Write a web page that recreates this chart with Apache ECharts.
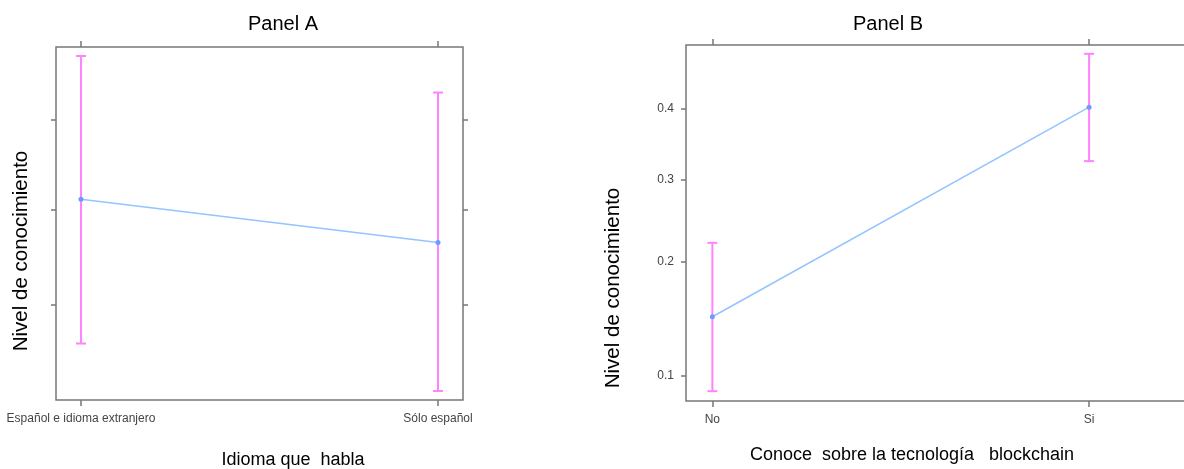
<!DOCTYPE html>
<html>
<head>
<meta charset="utf-8">
<script src="https://cdn.jsdelivr.net/npm/echarts@6/dist/echarts.min.js"></script>
<style>
  html, body { margin: 0; padding: 0; background: #fff; }
  #chart { width: 1184px; height: 469px; }
</style>
</head>
<body>
<div id="chart"></div>
<script>
// Panel A: Idioma que habla
var catsA = ['Español e idioma extranjero', 'Sólo español'];
var fitA = [0.411, 0.364];
var lowerA = [0.263, 0.221];
var upperA = [0.572, 0.531];
var yTicksA = [0.3, 0.4, 0.5];
var yRangeA = [0.2135, 0.582];

// Panel B: Conoce sobre la tecnología blockchain
var catsB = ['No', 'Si'];
var fitB = [0.146, 0.403];
var lowerB = [0.090, 0.325];
var upperB = [0.221, 0.484];
var yTicksB = [0.1, 0.2, 0.3, 0.4];
var yRangeB = [0.084, 0.4976];

// the y axis is on a probit scale, so values are mapped through the inverse normal cdf
function probit(p) {
  var a = [-3.969683028665376e+01, 2.209460984245205e+02, -2.759285104469687e+02, 1.383577518672690e+02, -3.066479806614716e+01, 2.506628277459239e+00];
  var b = [-5.447609879822406e+01, 1.615858368580409e+02, -1.556989798598866e+02, 6.680131188771972e+01, -1.328068155288572e+01];
  var c = [-7.784894002430293e-03, -3.223964580411365e-01, -2.400758277161838e+00, -2.549671667975992e+00, 4.374664141464968e+00, 2.938163982698783e+00];
  var d = [7.784695709041462e-03, 3.224671290700398e-01, 2.445134137142996e+00, 3.754408661907416e+00];
  var plow = 0.02425, q, r;
  if (p < plow) {
    q = Math.sqrt(-2 * Math.log(p));
    return (((((c[0]*q+c[1])*q+c[2])*q+c[3])*q+c[4])*q+c[5]) / ((((d[0]*q+d[1])*q+d[2])*q+d[3])*q+1);
  }
  if (p > 1 - plow) {
    q = Math.sqrt(-2 * Math.log(1 - p));
    return -(((((c[0]*q+c[1])*q+c[2])*q+c[3])*q+c[4])*q+c[5]) / ((((d[0]*q+d[1])*q+d[2])*q+d[3])*q+1);
  }
  q = p - 0.5;
  r = q * q;
  return (((((a[0]*r+a[1])*r+a[2])*r+a[3])*r+a[4])*r+a[5])*q / (((((b[0]*r+b[1])*r+b[2])*r+b[3])*r+b[4])*r+1);
}

var tickFont = 'Liberation Sans Narrow, Liberation Sans, Arial, sans-serif';
var mainFont = 'Liberation Sans, Arial, sans-serif';
var gray = '#777';

function lineData(fit) {
  return fit.map(function (v, i) { return [i, probit(v)]; });
}
function barData(lo, hi) {
  return lo.map(function (v, i) { return [i, probit(v), probit(hi[i])]; });
}

function renderErrorBar(params, api) {
  var x = api.value(0);
  var lo = api.coord([x, api.value(1)]);
  var hi = api.coord([x, api.value(2)]);
  var w = 5;
  var style = { stroke: '#ff82ff', lineWidth: 2 };
  return {
    type: 'group',
    children: [
      { type: 'line', shape: { x1: lo[0], y1: lo[1], x2: hi[0], y2: hi[1] }, style: style },
      { type: 'line', shape: { x1: hi[0] - w, y1: hi[1], x2: hi[0] + w, y2: hi[1] }, style: style },
      { type: 'line', shape: { x1: lo[0] - w, y1: lo[1], x2: lo[0] + w, y2: lo[1] }, style: style }
    ]
  };
}

function xAxisFor(gridIndex, cats, max, pos, showLabel) {
  return {
    type: 'value',
    gridIndex: gridIndex,
    position: pos,
    min: -0.07,
    max: max,
    axisLine: { show: false, onZero: false },
    splitLine: { show: false },
    axisTick: { show: true, customValues: [0, 1], length: 6, lineStyle: { color: gray, width: 1.5 } },
    axisLabel: {
      show: showLabel,
      customValues: [0, 1],
      margin: 13,
      color: '#444',
      fontFamily: tickFont,
      fontSize: 12,
      formatter: function (v) { return cats[Math.round(v)]; }
    }
  };
}

function yAxisFor(gridIndex, ticks, range, pos, showLabel) {
  var tv = ticks.map(probit);
  return {
    type: 'value',
    gridIndex: gridIndex,
    position: pos,
    min: probit(range[0]),
    max: probit(range[1]),
    axisLine: { show: false, onZero: false },
    splitLine: { show: false },
    axisTick: { show: true, customValues: tv, length: 5, lineStyle: { color: gray, width: 1.5 } },
    axisLabel: {
      show: showLabel,
      customValues: tv,
      margin: 12,
      color: '#444',
      fontFamily: tickFont,
      fontSize: 12,
      formatter: function (v) {
        var best = 0;
        for (var i = 0; i < tv.length; i++) {
          if (Math.abs(tv[i] - v) < Math.abs(tv[best] - v)) best = i;
        }
        return ticks[best].toFixed(1);
      }
    }
  };
}

var myChart = echarts.init(document.getElementById('chart'));
var option = {
  animation: false,
  backgroundColor: '#fff',
  grid: [
    { left: 56, top: 47, width: 407, height: 353, outerBoundsMode: 'none', show: true, borderColor: gray, borderWidth: 1.5, backgroundColor: 'transparent' },
    // panel B is cut off at the right edge of the picture
    { left: 686, top: 45, width: 528, height: 356, outerBoundsMode: 'none', show: true, borderColor: gray, borderWidth: 1.5, backgroundColor: 'transparent' }
  ],
  xAxis: [
    xAxisFor(0, catsA, 1.07, 'bottom', true),
    xAxisFor(0, catsA, 1.07, 'top', false),
    xAxisFor(1, catsB, 1.3316, 'bottom', true),
    xAxisFor(1, catsB, 1.3316, 'top', false)
  ],
  yAxis: [
    yAxisFor(0, yTicksA, yRangeA, 'left', false),
    yAxisFor(0, yTicksA, yRangeA, 'right', false),
    yAxisFor(1, yTicksB, yRangeB, 'left', true)
  ],
  graphic: [
    { type: 'text', x: 283, y: 24, style: { text: 'Panel A', fontSize: 20, fontFamily: mainFont, fill: '#000', align: 'center', verticalAlign: 'middle' } },
    { type: 'text', x: 888, y: 24, style: { text: 'Panel B', fontSize: 20, fontFamily: mainFont, fill: '#000', align: 'center', verticalAlign: 'middle' } },
    { type: 'text', x: 21, y: 251, rotation: Math.PI / 2, style: { text: 'Nivel de conocimiento', fontSize: 20.5, fontFamily: mainFont, fill: '#000', align: 'center', verticalAlign: 'middle' } },
    { type: 'text', x: 613, y: 288, rotation: Math.PI / 2, style: { text: 'Nivel de conocimiento', fontSize: 20.5, fontFamily: mainFont, fill: '#000', align: 'center', verticalAlign: 'middle' } },
    { type: 'text', x: 293, y: 460, style: { text: 'Idioma que  habla', fontSize: 18, fontFamily: mainFont, fill: '#000', align: 'center', verticalAlign: 'middle' } },
    { type: 'text', x: 912, y: 455, style: { text: 'Conoce  sobre la tecnología   blockchain', fontSize: 18, fontFamily: mainFont, fill: '#000', align: 'center', verticalAlign: 'middle' } }
  ],
  series: [
    {
      type: 'custom',
      xAxisIndex: 0,
      yAxisIndex: 0,
      renderItem: renderErrorBar,
      encode: { x: 0, y: [1, 2] },
      data: barData(lowerA, upperA),
      z: 2
    },
    {
      type: 'line',
      xAxisIndex: 0,
      yAxisIndex: 0,
      data: lineData(fitA),
      symbol: 'circle',
      symbolSize: 5,
      lineStyle: { color: '#94c4ff', width: 1.5 },
      itemStyle: { color: '#6a9cff' },
      z: 3
    },
    {
      type: 'custom',
      xAxisIndex: 2,
      yAxisIndex: 2,
      renderItem: renderErrorBar,
      encode: { x: 0, y: [1, 2] },
      data: barData(lowerB, upperB),
      z: 2
    },
    {
      type: 'line',
      xAxisIndex: 2,
      yAxisIndex: 2,
      data: lineData(fitB),
      symbol: 'circle',
      symbolSize: 5,
      lineStyle: { color: '#94c4ff', width: 1.5 },
      itemStyle: { color: '#6a9cff' },
      z: 3
    }
  ]
};

option && myChart.setOption(option);
</script>
</body>
</html>
